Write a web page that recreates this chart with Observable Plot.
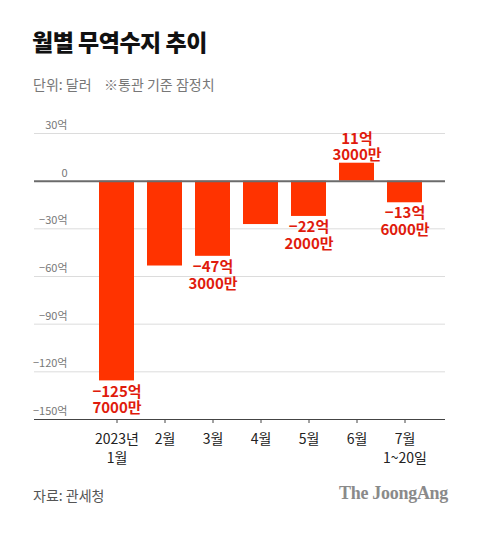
<!DOCTYPE html>
<html><head><meta charset="utf-8">
<script src="https://cdn.jsdelivr.net/npm/d3@7"></script>
<script src="https://cdn.jsdelivr.net/npm/@observablehq/plot@0.6"></script>
<style>
body{margin:0;background:#fff;font-family:"Noto Sans CJK KR","Noto Sans",sans-serif;}
#wrap{position:relative;width:480px;height:547px;overflow:hidden;}
#title{position:absolute;left:32px;top:24px;font-size:23px;font-weight:900;color:#111;letter-spacing:-0.5px;}
#sub{position:absolute;left:33px;top:74px;font-size:14px;color:#777;white-space:pre;}
#chart{position:absolute;left:0;top:100px;}
#src{position:absolute;left:33px;top:485px;font-size:14px;color:#555;}
#logo{position:absolute;right:32px;top:483px;font-family:"Liberation Serif","DejaVu Serif",serif;font-weight:bold;font-size:18px;color:#8a8a8a;letter-spacing:-0.3px;}
</style></head>
<body><div id="wrap">
<div id="title">월별 무역수지 추이</div>
<div id="sub">단위: 달러    ※통관 기준 잠정치</div>
<div id="chart"></div>
<div id="src">자료: 관세청</div>
<div id="logo">The JoongAng</div>
</div>
<script>
const months = ["2023년\n1월", "2월", "3월", "4월", "5월", "6월", "7월\n1~20일"];
const values = [-125.7, -53.4, -47.3, -27.3, -22.2, 11.3, -13.6];
const valueLabels = ["−125억\n7000만", "", "−47억\n3000만", "", "−22억\n2000만", "11억\n3000만", "−13억\n6000만"];
const yTicks = [30, 0, -30, -60, -90, -120, -150];
const yTickLabels = ["30억", "0", "−30억", "−60억", "−90억", "−120억", "−150억"];

const data = months.map((m, i) => ({month: m, value: values[i], label: valueLabels[i]}));
const tickData = yTicks.map((t, i) => ({t, label: yTickLabels[i]}));
const font = '"Noto Sans CJK KR","Noto Sans",sans-serif';

const chart = Plot.plot({
  width: 480,
  height: 380,
  marginLeft: 34,
  marginRight: 35,
  marginTop: 33,
  marginBottom: 61,
  style: {fontFamily: font, background: "transparent"},
  x: {domain: months, range: [98, 422.5], paddingInner: 0.274, paddingOuter: 0, axis: null},
  y: {domain: [-150, 30], axis: null},
  marks: [
    Plot.ruleY(yTicks.filter(t => t !== 0 && t !== -150), {stroke: "#dcdcdc", strokeWidth: 1}),
    Plot.barY(data, {x: "month", y: "value", fill: "#ff3300"}),
    Plot.ruleY([0], {stroke: "#6b6b6b", strokeWidth: 2}),
    Plot.ruleY([-150], {stroke: "#444", strokeWidth: 1}),
    Plot.axisX({domain: months, tickSize: 4, tickPadding: 7, fontSize: 14, lineHeight: 1.35, color: "#222", stroke: "#444", tickFormat: d => d, label: null}),
    Plot.text(tickData, {y: "t", text: "label", frameAnchor: "left", dx: 33, dy: -8, textAnchor: "end", fontSize: 11, fill: "#777"}),
    Plot.text(data.filter(d => d.label && d.value < 0), {x: "month", y: "value", text: "label", lineAnchor: "top", dy: 4, fontSize: 15, fontWeight: "bold", fill: "#e01b0c", lineHeight: 1.1}),
    Plot.text(data.filter(d => d.label && d.value > 0), {x: "month", y: "value", text: "label", lineAnchor: "bottom", dy: -3, fontSize: 15, fontWeight: "bold", fill: "#e01b0c", lineHeight: 1.1})
  ]
});
document.getElementById("chart").appendChild(chart);
</script>
</body></html>
